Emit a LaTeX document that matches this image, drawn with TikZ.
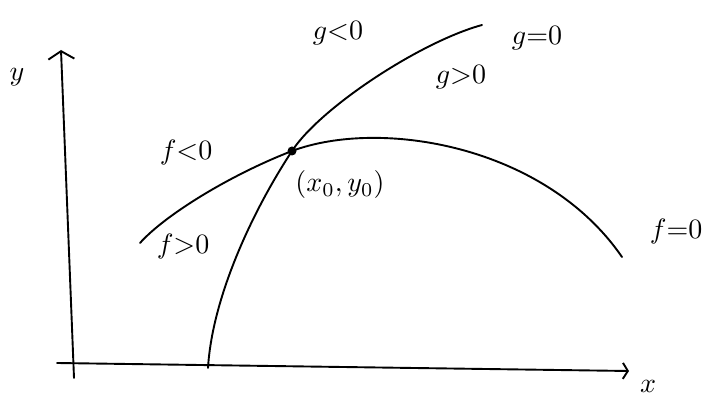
\documentclass[tikz,border=0pt]{standalone}
\usetikzlibrary{arrows.meta}
\begin{document}
\begin{tikzpicture}[x=1pt,y=-1pt,
  curve/.style={line width=1.9pt, line cap=round, line join=round},
  axis/.style={line width=1.9pt, line cap=round, -{Straight Barb[length=8pt,width=26pt,line width=1.9pt]}},
  lbl/.style={scale=2.8, inner sep=0pt},
  pt/.style={circle, fill=black, inner sep=0pt, minimum size=9pt}]
\useasboundingbox (0,0) rectangle (705,398);
% axes
\coordinate (ybot) at (74,378);
\coordinate (ytop) at (61,50);
\coordinate (xleft) at (57,363);
\coordinate (xright) at (629,371);
\draw[axis] (ybot) -- (ytop);
\draw[axis,-{Straight Barb[length=5pt,width=16pt,line width=1.9pt]}] (xleft) -- (xright);
\node[lbl] (ylab) at (17,77) {$y$};
\node[lbl] (xlab) at (648,386) {$x$};
% intersection point
\node[pt] (p0) at (292,151) {};
% curve f
\coordinate (fstart) at (140,243);
\coordinate (fend) at (622,257);
\draw[curve] (fstart) .. controls (165,215) and (230,175) .. (p0.center)
  .. controls (380,118) and (545,145) .. (fend);
% curve g
\coordinate (gstart) at (208,368);
\coordinate (gend) at (482,25);
\draw[curve] (gstart) .. controls (212,300) and (250,215) .. (p0.center)
  .. controls (320,108) and (420,42) .. (gend);
% labels
\node[lbl] (gneg) at (338,33) {$g{<}0$};
\node[lbl] (gzero) at (537,38) {$g{=}0$};
\node[lbl] (gpos) at (461,77) {$g{>}0$};
\node[lbl] (fneg) at (186,153) {$f{<}0$};
\node[lbl] (fpos) at (183,247) {$f{>}0$};
\node[lbl, anchor=east] (fzero) at (703,232) {$f{=}0$};
\node[lbl] (x0y0) at (340,185) {$(x_0,y_0)$};
\end{tikzpicture}
\end{document}
